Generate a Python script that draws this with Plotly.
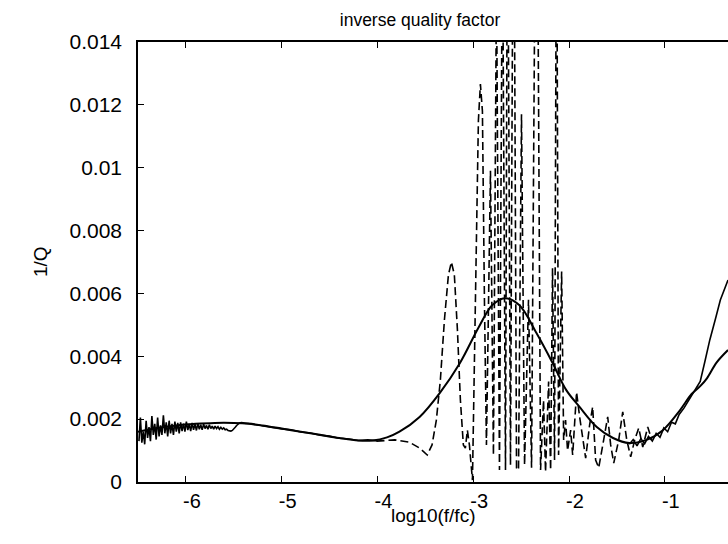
import plotly.graph_objects as go

# ---------------- data ----------------
x_tickvals = [-6, -5, -4, -3, -2, -1]
x_ticktext = ["-6", "-5", "-4", "-3", "-2", "-1"]
y_tickvals = [0, 0.002, 0.004, 0.006, 0.008, 0.010, 0.012, 0.014]
y_ticktext = ["0", "0.002", "0.004", "0.006", "0.008", "0.01", "0.012", "0.014"]

# smooth solid curve
theory_x = [-6.5, -6.3, -6.1, -5.9, -5.7, -5.5, -5.35, -5.2, -5.0, -4.8, -4.6, -4.4,
            -4.2, -4.05, -3.9, -3.77, -3.56, -3.35, -3.14, -2.94, -2.80, -2.67,
            -2.52, -2.34, -2.17, -2.03, -1.89, -1.71, -1.54, -1.37, -1.19, -1.02,
            -0.84, -0.72, -0.63, -0.56, -0.46, -0.34]
theory_y = [0.00160, 0.00172, 0.00180, 0.00185, 0.00188, 0.00188, 0.00186, 0.00180,
            0.00170, 0.00160, 0.00150, 0.00140, 0.00132, 0.00132, 0.00142, 0.00160,
            0.00207, 0.00283, 0.00378, 0.00494, 0.00563, 0.00585, 0.00563, 0.00474,
            0.00378, 0.00293, 0.00239, 0.00175, 0.00140, 0.00124, 0.00134, 0.00165,
            0.00229, 0.00280, 0.00305, 0.00330, 0.00380, 0.00420]

# noisy measured curve (low-frequency part, gap, high-frequency part)
data_x = [-6.490, -6.475, -6.460, -6.445, -6.430, -6.415, -6.400, -6.385, -6.370,
          -6.355, -6.340, -6.325, -6.310, -6.295, -6.280, -6.265, -6.250, -6.235,
          -6.220, -6.205, -6.190, -6.175, -6.160, -6.145, -6.130, -6.115, -6.100,
          -6.085, -6.070, -6.055, -6.040, -6.025, -6.010, -5.995, -5.980, -5.965,
          -5.950, -5.935, -5.920, -5.905, -5.890, -5.875, -5.860, -5.845, -5.830,
          -5.815, -5.800, -5.785, -5.770, -5.755, -5.740, -5.725, -5.710, -5.695,
          -5.680, -5.665, -5.650, -5.635, -5.620, -5.605, -5.590, -5.575, -5.560,
          -5.545, -5.530, -5.515, -5.500, -5.485, -5.470, -5.455, -5.440, -5.42,
          -5.38, -5.34, -5.30, -5.2, -5.1, -5.0, -4.9, -4.8, -4.7, -4.6, -4.5, -4.4,
          -4.3, -4.2, -4.1, -4.0,
          None,
          -1.37, -1.33, -1.29, -1.25, -1.21, -1.17, -1.13, -1.09, -1.05, -1.01, -0.97,
          -0.93, -0.89, -0.85, -0.80, -0.74, -0.68, -0.63, -0.58, -0.53, -0.47, -0.42,
          -0.34]
data_y = [0.00130, 0.00205, 0.00125, 0.00160, 0.00120, 0.00195, 0.00140, 0.00175,
          0.00130, 0.00210, 0.00150, 0.00185, 0.00135, 0.00205, 0.00145, 0.00180,
          0.00150, 0.00212, 0.00155, 0.00190, 0.00145, 0.00195, 0.00155, 0.00185,
          0.00150, 0.00192, 0.00160, 0.00188, 0.00155, 0.00190, 0.00162, 0.00186,
          0.00160, 0.00192, 0.00165, 0.00185, 0.00162, 0.00188, 0.00166, 0.00184,
          0.00164, 0.00186, 0.00168, 0.00182, 0.00166, 0.00184, 0.00170, 0.00180,
          0.00168, 0.00182, 0.00170, 0.00178, 0.00168, 0.00178, 0.00170, 0.00176,
          0.00168, 0.00174, 0.00168, 0.00172, 0.00166, 0.00168, 0.00164, 0.00163,
          0.00162, 0.00164, 0.00168, 0.00174, 0.00180, 0.00185, 0.00188, 0.00189,
          0.00187, 0.00184, 0.00182, 0.00179, 0.00174, 0.00169, 0.00166, 0.00159,
          0.00156, 0.00149, 0.00146, 0.00139, 0.00137, 0.00132, 0.00134, 0.00131,
          None,
          0.00120, 0.00135, 0.00115, 0.00138, 0.00122, 0.00145, 0.00130, 0.00155,
          0.00142, 0.00172, 0.00160, 0.00190, 0.00185, 0.00215, 0.00235, 0.00265,
          0.00295, 0.00320, 0.00385, 0.00452, 0.00520, 0.00579, 0.00643]

# dashed oscillating curve
dash_x = [-4.01, -3.82, -3.67, -3.56, -3.48, -3.43, -3.385, -3.343, -3.301, -3.259,
          -3.228, -3.197, -3.165, -3.134, -3.103, -3.082, -3.061, -3.040, -3.008,
          -2.977, -2.946, -2.925, -2.904, -2.883, -2.862, -2.820, -2.789, -2.757,
          -2.726, -2.695, -2.663, -2.642, -2.611, -2.579, -2.548, -2.527, -2.496,
          -2.464, -2.423, -2.391, -2.339, -2.297, -2.266, -2.245, -2.213, -2.192,
          -2.172, -2.151, -2.130, -2.109, -2.077, -2.056, -2.036, -2.015, -1.983,
          -1.962, -1.921, -1.889, -1.858, -1.826, -1.785, -1.753, -1.722, -1.690,
          -1.638, -1.596, -1.565, -1.533, -1.481, -1.439, -1.397, -1.356, -1.314,
          -1.272, -1.230, -1.178, -1.136]
dash_y = [0.00130, 0.00134, 0.00127, 0.00108, 0.00086, 0.00118, 0.00197, 0.00325,
          0.00515, 0.00659, 0.00700, 0.00659, 0.00484, 0.00261, 0.00118, 0.00108,
          0.00165, 0.00118, 0.00006, 0.00579, 0.01150, 0.01266, 0.01180, 0.00580,
          0.00118, 0.00990, 0.00086, 0.01600, 0.00038, 0.01800, 0.00038, 0.02000,
          0.00054, 0.02200, 0.00045, 0.00038, 0.01170, 0.00054, 0.00580, 0.00045,
          0.02400, 0.00038, 0.00260, 0.00032, 0.00320, 0.00038, 0.00680, 0.00070,
          0.02000, 0.00086, 0.00670, 0.00134, 0.00197, 0.00100, 0.00165, 0.00086,
          0.00286, 0.00207, 0.00143, 0.00076, 0.00181, 0.00239, 0.00070, 0.00045,
          0.00134, 0.00207, 0.00118, 0.00060, 0.00134, 0.00223, 0.00134, 0.00080,
          0.00134, 0.00172, 0.00111, 0.00175, 0.00134]

# ---------------- figure ----------------
fig = go.Figure()
fig.add_trace(go.Scatter(x=theory_x, y=theory_y, mode="lines", line_shape="spline",
                         line=dict(color="black", width=2), showlegend=False))
fig.add_trace(go.Scatter(x=data_x, y=data_y, mode="lines",
                         line=dict(color="black", width=1.6), showlegend=False,
                         connectgaps=False))
fig.add_trace(go.Scatter(x=dash_x, y=dash_y, mode="lines",
                         line=dict(color="black", width=1.6, dash="8px,4px"),
                         showlegend=False))

font_family = "Liberation Sans, Arial, Helvetica, sans-serif"
fig.update_layout(
    width=728, height=544,
    margin=dict(l=138, r=0, t=42, b=62),
    paper_bgcolor="white", plot_bgcolor="white",
    font=dict(family=font_family, size=20, color="black"),
    title=dict(text="inverse quality factor", x=0.478, xref="paper", xanchor="center",
               y=0.963, yanchor="middle", font=dict(size=17.5)),
    annotations=[
        dict(text="log10(f/fc)", x=0.5, xref="paper", y=0, yref="paper",
             yshift=-33, xanchor="center", yanchor="middle",
             showarrow=False, font=dict(size=19)),
        dict(text="1/Q", x=0, xref="paper", y=0.5, yref="paper",
             xshift=-98, xanchor="center", yanchor="middle", textangle=-90,
             showarrow=False, font=dict(size=19)),
    ],
)
fig.update_xaxes(
    range=[-6.5, -0.34], tickvals=x_tickvals, ticktext=x_ticktext,
    showline=True, linecolor="black", linewidth=1.5, mirror="ticks",
    ticks="inside", ticklen=6, tickcolor="black", tickwidth=1.2,
    showgrid=False, zeroline=False, ticklabelshift=6,
)
fig.update_yaxes(
    range=[0, 0.014], tickvals=y_tickvals, ticktext=y_ticktext,
    showline=True, linecolor="black", linewidth=1.5, mirror=False,
    ticks="inside", ticklen=6, tickcolor="black", tickwidth=1.2,
    showgrid=False, zeroline=False, ticklabelstandoff=10,
    tickfont=dict(size=21),
)

fig.write_html("out.html", config={"displayModeBar": False},
               post_script="document.body.style.margin='0';"
                           "document.body.style.overflow='hidden';")
